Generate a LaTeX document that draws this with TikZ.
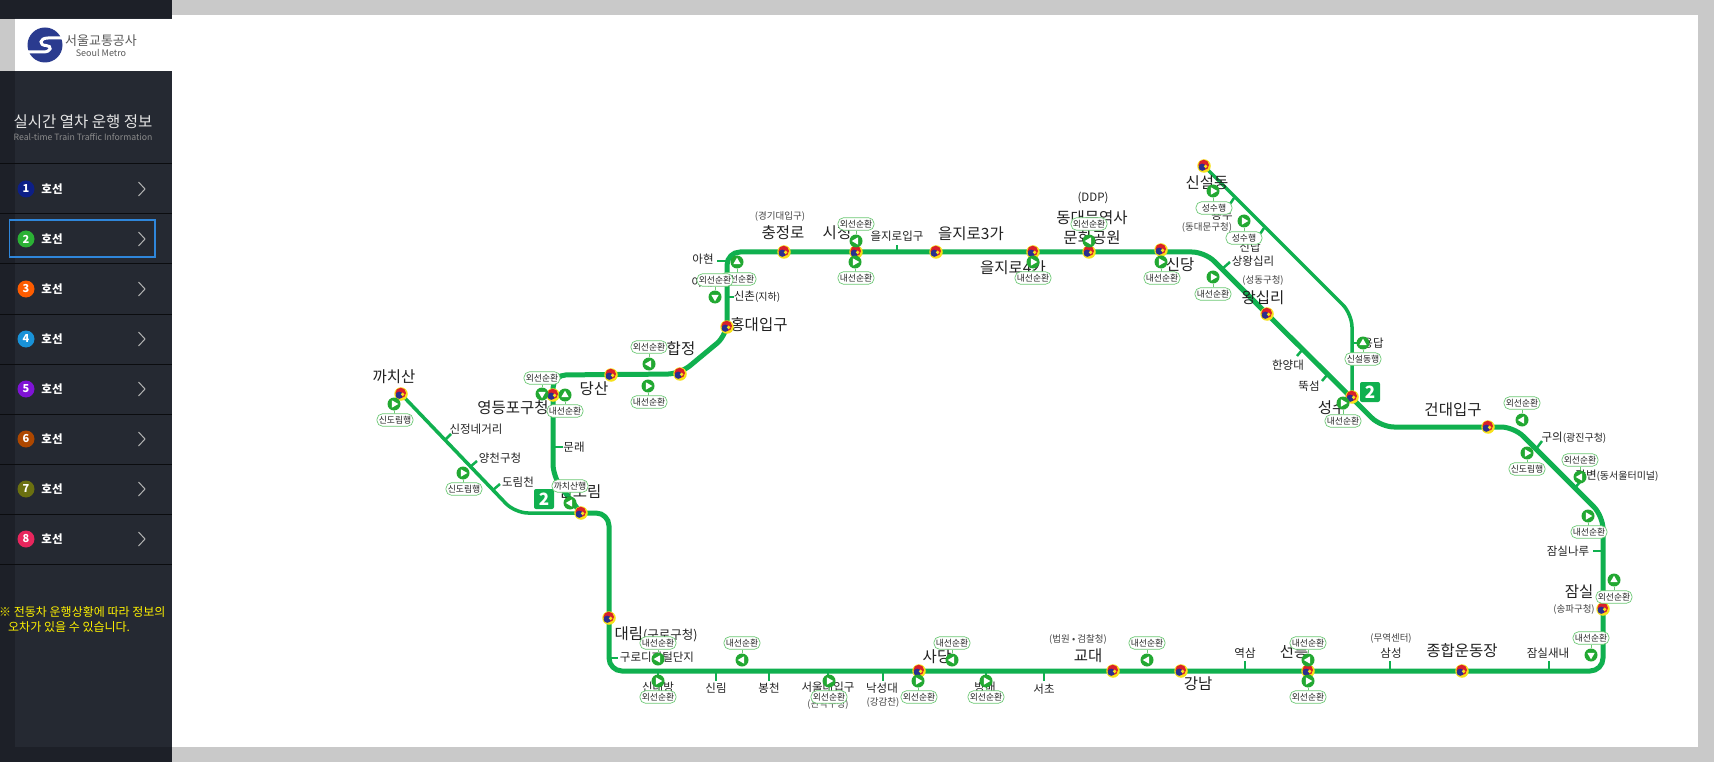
\documentclass[tikz,border=0pt]{standalone}
\usepackage{fontspec}
\setmainfont{Noto Sans CJK KR}
\usetikzlibrary{positioning}
\definecolor{lineGreen}{HTML}{10B04F}
\definecolor{markGreen}{HTML}{22A832}
\definecolor{pillEdge}{HTML}{6CC874}
\definecolor{sideDark}{HTML}{252932}
\definecolor{sideStrip}{HTML}{1D2028}
\definecolor{pageGray}{HTML}{C9C9C9}
\definecolor{textDark}{HTML}{222222}
\definecolor{logoBlue}{HTML}{2A3B8F}
\definecolor{menuBlue}{HTML}{2F86DA}
\definecolor{ringYellow}{HTML}{F7E11B}
\definecolor{swirlRed}{HTML}{D9202A}
\definecolor{swirlBlue}{HTML}{2B2F8F}
\newcommand{\note}[1]{{\fontsize{10}{11}\selectfont #1}}

\begin{document}
\begin{tikzpicture}
[x=1pt,y=-1pt,
  mainLine/.style={draw=lineGreen,line width=5pt,rounded corners=13pt},
  branchLine/.style={draw=lineGreen,line width=3.5pt,rounded corners=13pt},
  tickLine/.style={draw=lineGreen,line width=2.5pt},
  stationMark/.style={shape=circle,inner sep=0pt,minimum size=13.5pt,fill=ringYellow,
    path picture={
      \fill[swirlRed] ([shift={(-0.3,-1)}]path picture bounding box.center) circle (5.3pt);
      \fill[swirlBlue] ([shift={(-1.8,1.2)}]path picture bounding box.center) circle (3.6pt);
      \fill[ringYellow] ([shift={(1.6,0.4)}]path picture bounding box.center) circle (1.8pt);
    }},
  dirMark/.style={shape=circle,inner sep=0pt,minimum size=13pt,fill=markGreen},
  pillLabel/.style={shape=rectangle,rounded corners=5.5pt,draw=pillEdge,line width=0.7pt,fill=white,
    inner sep=0pt,minimum width=36pt,minimum height=12.5pt,text=textDark,
    font=\fontsize{8.8}{9}\selectfont},
  pillLine/.style={draw=pillEdge,line width=0.8pt},
  bigName/.style={text=textDark,inner sep=0pt,font=\fontsize{15.5}{17}\selectfont},
  midName/.style={text=textDark,inner sep=0pt,font=\fontsize{11.5}{13}\selectfont},
  noteName/.style={text=textDark!85,inner sep=0pt,font=\fontsize{9.5}{11}\selectfont},
  lineBadge/.style={shape=rectangle,rounded corners=2pt,fill=lineGreen,text=white,inner sep=0pt,
    minimum size=20pt,font=\fontsize{17}{18}\bfseries\selectfont},
  lineDot/.style={shape=circle,inner sep=0pt,minimum size=17pt,text=white,
    font=\fontsize{11}{12}\bfseries\selectfont},
  menuText/.style={text=white,inner sep=0pt,font=\fontsize{11.5}{13}\bfseries\selectfont},
  warnText/.style={text=yellow,inner sep=0pt,anchor=west,font=\fontsize{12}{13}\selectfont}]
\useasboundingbox (0,0) rectangle (1714,762);

%% page and side panel
\fill[pageGray] (0,0) rectangle (1714,762);
\fill[white] (172,15) rectangle (1698,747);
\fill[sideDark] (0,0) rectangle (172,762);
\fill[sideStrip] (0,0) rectangle (15,762);
\fill[sideStrip] (0,0) rectangle (172,18);
\fill[sideStrip] (0,747) rectangle (172,762);
\fill[pageGray] (0,19) rectangle (15,71);
\fill[white] (15,19) rectangle (172,71);

%% logo
\node (logoDisc) at (45,45) [shape=circle,inner sep=0pt,minimum size=35pt,fill=logoBlue] {};
\draw[white,line width=3pt] (62.5,38) -- (48,38) .. controls (39,38) and (39,45.5) .. (46,45.5)
  .. controls (52,45.5) and (52,52) .. (43,52) -- (27.5,52);
\node (logoKo) at (101,41) [text=black!65,inner sep=0pt,font=\fontsize{13}{14}\selectfont] {서울교통공사};
\node (logoEn) at (101,53) [text=black!65,inner sep=0pt,font=\fontsize{9}{10}\selectfont] {Seoul Metro};

%% panel title
\node (panelTitle) at (83,122) [text=white!90!black,inner sep=0pt,font=\fontsize{15.5}{17}\selectfont] {실시간 열차 운행 정보};
\node (panelSub) at (83,137) [text=white!55!black,inner sep=0pt,font=\fontsize{8.7}{10}\selectfont] {Real-time Train Traffic Information};

%% line menu
\draw[black!70!sideDark,line width=1pt] (0,164) -- (172,164);
\foreach \num/\dotcolor in {1/0D1F87, 2/2BB135, 3/FD5C00, 4/1992D8, 5/7F13D6, 6/AD4700, 7/6B7010, 8/E8265D} {
  \definecolor{dotTint}{HTML}{\dotcolor}
  \node (dot\num) at (26,139+50*\num) [lineDot,fill=dotTint] {\num};
  \node (menu\num) at (52,139+50*\num) [menuText] {호선};
  \draw[white!70!black,line width=1pt] (138.5,132+50*\num) -- (145,139+50*\num) -- (138.5,146+50*\num);
  \draw[black!70!sideDark,line width=1pt] (0,164+50*\num) -- (172,164+50*\num);
}
\draw[menuBlue,line width=1.5pt] (9.5,220) rectangle (155,257);

%% notice
\node (warnA) at (-1,612) [warnText] {※ 전동차 운행상황에 따라 정보의};
\node (warnB) at (8,627) [warnText] {오차가 있을 수 있습니다.};

%% stations
\foreach \nodename/\x/\y in {kkachisan/401/394, sinseol/1204/166, sindorim/581/513, daerim/609/618,
  sadang/919/671, gyodae/1113/671, gangnam/1181/671, seolleung/1308/671, sports/1462/671,
  jamsil/1603/609, konkuk/1488/427, seongsu/1352/397, wangsimni/1267/314, sindang/1161/250,
  ddp/1089/252, euljiFour/1033/252, euljiThree/936/252, cityhall/856/252, chungjeong/784/252,
  hongdae/727/327, hapjeong/680/374, dangsan/611/375, yeongdeungpo/553/395} {
  \coordinate (\nodename) at (\x,\y);
}
%% bends
\foreach \nodename/\x/\y in {bendA/727/252, bendB/1205/252, bendC/1381/427, bendD/1514/427,
  bendE/1603/516, bendF/1603/671, bendG/609/671, bendH/609/513, bendI/553/477, bendJ/553/375,
  bendK/727/335, bendL/515/513, bendM/1352/314} {
  \coordinate (\nodename) at (\x,\y);
}

%% lines
\draw[branchLine] (kkachisan) -- (bendL) -- (sindorim);
\draw[branchLine] (sinseol) -- (bendM) -- (seongsu);
\draw[mainLine] (hongdae) -- (bendA) -- (chungjeong) -- (bendB) -- (wangsimni) -- (bendC) -- (bendD)
  -- (bendE) -- (bendF) -- (bendG) -- (bendH) -- (sindorim);
\draw[mainLine] (sindorim) -- (bendI) -- (bendJ) -- (hapjeong) -- (bendK) -- (hongdae);

%% ticks for the small stations
\foreach \nodename/\xa/\ya/\xb/\yb in {sinjeong/445/440/451/434, yangcheon/470/467/477/461,
  dorimcheon/493/490/500/484, mullae/553/447/563/447, guro/609/658/618/658,
  sindaebang/658/671/658/681, sillim/716/671/716/681, bongcheon/769/671/769/681,
  snu/828/671/828/681, nakseong/883/671/883/681, bangbae/986/671/986/681, seocho/1044/671/1044/681,
  yeoksam/1245/671/1245/661, samseong/1390/671/1390/661, saenae/1549/671/1549/661,
  naru/1603/551/1593/551, guui/1536/449/1542/441, gangbyeon/1574/489/1580/482,
  yongdu/1234/198/1230/204, sindap/1264/228/1260/234, yongdap/1352/343/1358/343,
  sangwang/1222/269/1230/262, hanyang/1302/350/1297/356, ttukseom/1327/375/1322/381,
  ahyeon/727/261/717/261, sinchon/727/297/734/297, euljiOne/897/252/897/245} {
  \coordinate (\nodename A) at (\xa,\ya);
  \coordinate (\nodename B) at (\xb,\yb);
  \draw[tickLine] (\nodename A) -- (\nodename B);
}

%% station names
\foreach \nodename/\x/\y/\txt in {nKkachisan/394/377/까치산, nYeongdeungpo/513/408/영등포구청, nDangsan/594/389/당산,
  nHapjeong/681/349/합정, nHongdae/759/325/홍대입구, nChungjeong/783/233/충정로, nCityhall/837/233/시청,
  nEuljiThree/971/234/을지로3가, nEuljiFour/1013/268/을지로4가, nDdpA/1092/218/동대문역사, nDdpB/1092/238/문화공원,
  nSindang/1180/265/신당, nSinseol/1207/183/신설동, nWangsimni/1263/298/왕십리, nSeongsu/1332/408/성수,
  nKonkuk/1453/410/건대입구, nJamsil/1579/592/잠실, nSports/1462/651/종합운동장, nSeolleung/1294/652/선릉,
  nGangnam/1198/684/강남, nGyodae/1088/656/교대, nSadang/937/657/사당, nSindorim/580/492/신도림} {
  \node (\nodename) at (\x,\y) [bigName] {\txt};
}
\foreach \nodename/\x/\y/\txt in {nAhyeon/703/259/아현, nEwha/702/282/이대, nEuljiOne/897/236/을지로입구,
  nYongdu/1222/215/용두, nSinjeongfour/476/429/신정네거리, nYangcheon/500/458/양천구청, nDorimcheon/518/482/도림천,
  nMullae/574/447/문래, nSinchon/757/297/신촌\note{(지하)}, nSinDap/1250/247/신답, nSangwang/1253/261/상왕십리,
  nYongdap/1373/343/용답, nHanyang/1288/365/한양대, nTtukseom/1309/386/뚝섬, nGuui/1574/438/구의\note{(광진구청)},
  nGangbyeon/1617/476/강변\note{(동서울터미널)}, nNaru/1568/551/잠실나루, nSaenae/1548/653/잠실새내,
  nSamseong/1391/653/삼성, nYeoksam/1245/653/역삼, nSeocho/1044/689/서초, nBangbae/985/687/방배,
  nNakseong/882/688/낙성대, nSnu/828/687/서울대입구, nBongcheon/769/688/봉천, nSillim/716/688/신림,
  nSindaebang/658/687/신대방, nGuro/657/657/구로디지털단지} {
  \node (\nodename) at (\x,\y) [midName] {\txt};
}
\foreach \nodename/\x/\y/\txt in {pChungjeong/780/217/(경기대입구), pDongdaemungu/1207/227/(동대문구청),
  pSeongdong/1263/280/(성동구청), pSongpa/1574/609/(송파구청), pTrade/1391/638/(무역센터),
  pCourt/1078/639/(법원 • 검찰청), pGangam/883/702/(강감찬), pGwanak/828/704/(관악구청)} {
  \node (\nodename) at (\x,\y) [noteName] {\txt};
}
\node (pDdp) at (1093,198) [midName] {(DDP)};
\node (nDaerim) at (656,634) [text=textDark,inner sep=0pt,font=\fontsize{15.5}{17}\selectfont] {대림{\fontsize{12.5}{14}\selectfont (구로구청)}};

%% station marks
\foreach \nodename in {kkachisan, sinseol, sindorim, daerim, sadang, gyodae, gangnam, seolleung, sports,
  jamsil, konkuk, seongsu, wangsimni, sindang, ddp, euljiFour, euljiThree, cityhall, chungjeong,
  hongdae, hapjeong, dangsan, yeongdeungpo} {
  \node (\nodename Mark) at (\nodename) [stationMark] {};
}

%% line number badges
\node (badgeEast) at (1370,392) [lineBadge] {2};
\node (badgeWest) at (544,499) [lineBadge] {2};

%% direction marks with their labels (heading: 0 right, 90 down, 180 left, 270 up)
\foreach \nodename/\x/\y/\heading/\px/\py/\txt in {
  kka/394/404/0/395/420/신도림행, yan/463/473/0/464/489/신도림행, yeoA/542/394/90/542/378/외선순환,
  yeoB/565/395/270/565/411/내선순환, sdr/570/503/180/570/486/까치산행, hapA/649/364/180/649/347/외선순환,
  hapB/648/386/0/649/402/내선순환, ahyB/737/262/270/738/279/내선순환, ahyA/715/297/90/715/280/외선순환,
  cthA/856/241/180/856/224/외선순환, cthB/855/262/0/856/278/내선순환, eul/1033/262/0/1033/278/내선순환,
  ddm/1089/241/180/1089/224/외선순환, snd/1161/262/0/1162/278/내선순환, sng/1213/277/0/1213/294/내선순환,
  ssA/1213/191/0/1214/208/성수행, ssB/1244/221/0/1244/238/성수행, ydp/1363/343/270/1363/359/신설동행,
  sgs/1343/403/0/1343/421/내선순환, guA/1522/420/180/1522/403/외선순환, guB/1527/453/0/1527/469/신도림행,
  gbyA/1580/477/180/1580/460/외선순환, gbyB/1588/516/0/1589/532/내선순환, jmsA/1614/580/270/1614/597/외선순환,
  jmsB/1591/655/90/1591/638/내선순환, gnm/1147/660/180/1147/643/내선순환, sllA/1308/660/180/1308/643/내선순환,
  sllB/1308/681/0/1308/697/외선순환, sdbA/658/659/180/658/643/내선순환, sdbB/658/681/0/658/697/외선순환,
  slm/742/660/180/742/643/내선순환, seo/829/681/0/829/697/외선순환, sdgA/952/660/180/952/643/내선순환,
  sdgB/918/681/0/919/697/외선순환, bng/986/681/0/986/697/외선순환} {
  \node (\nodename Dir) at (\x,\y) [dirMark] {};
  \node (\nodename Pill) at (\px,\py) [pillLabel] {\txt};
  \draw[pillLine] (\nodename Dir) -- (\nodename Pill);
  \fill[white] (\nodename Dir.center) ++(\heading:4.3) -- ++(\heading+150:7.4) -- ++(\heading+270:7.4) -- cycle;
}
\end{tikzpicture}
\end{document}
